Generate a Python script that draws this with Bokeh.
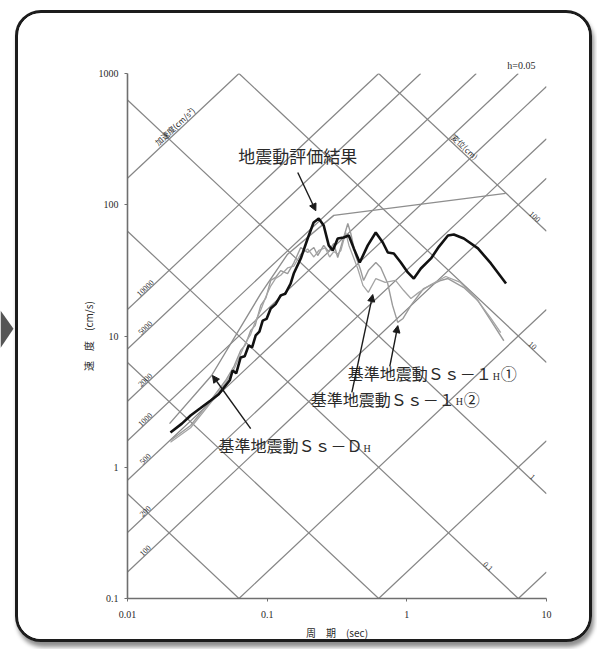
import math
from bokeh.plotting import figure
from bokeh.layouts import row
from bokeh.models import Range1d, FixedTicker, Arrow, NormalHead
from bokeh.core.properties import value
from bokeh.embed import file_html
from bokeh.resources import INLINE

# ---------------- data ----------------
# tripartite grid values
accel_lines = [0.1, 1, 10, 100, 200, 500, 1000, 2000, 5000, 10000, 100000]   # cm/s^2
accel_labels = ["100", "200", "500", "1000", "2000", "5000", "10000"]
disp_lines = [0.001, 0.01, 0.1, 1, 10, 100]                                  # cm
disp_labels = ["100", "10", "1", "0.1"]
disp_label_T = [8.0, 7.7, 7.7, 3.7]

# 地震動評価結果 (bold black)
eval_T = [0.0203, 0.0245, 0.0283, 0.033, 0.0394, 0.045, 0.0504, 0.054, 0.0566, 0.060,
          0.0646, 0.069, 0.0737, 0.078, 0.0828, 0.088, 0.0929, 0.099, 0.106, 0.115,
          0.125, 0.135, 0.147, 0.155, 0.174, 0.195, 0.215, 0.234, 0.254, 0.276,
          0.295, 0.320, 0.353, 0.384, 0.417, 0.460, 0.525, 0.599, 0.673, 0.731,
          0.807, 0.906, 1.016, 1.122, 1.26, 1.49, 1.70, 1.97, 2.17, 2.56,
          3.23, 4.0, 5.13]
eval_V = [1.84, 2.15, 2.48, 2.8, 3.23, 3.6, 4.2, 4.6, 5.46, 5.2,
          6.86, 7.0, 8.47, 8.2, 10.1, 10.8, 13.1, 13.5, 16.2, 17.5,
          20.4, 21.0, 25.0, 29.9, 38.9, 55.3, 73.3, 78.5, 69.5, 49.0,
          44.8, 55.3, 56.3, 58.3, 46.5, 36.3, 49.0, 61.5, 51.6, 43.3,
          42.5, 36.3, 30.5, 27.4, 32.7, 39.0, 48.0, 58.3, 59.4, 55.3,
          46.5, 35.7, 25.1]

# 基準地震動 Ss-DH (design spectrum)
dh_T = [0.02, 0.04, 0.09, 0.14, 0.30, 5.1]
dh_V = [2.15, 5.0, 21.0, 42.0, 83.0, 122.0]

# 基準地震動 Ss-1H①
s1_T = [0.0203, 0.0283, 0.0394, 0.0504, 0.058, 0.0646, 0.070, 0.0762, 0.082, 0.090,
        0.098, 0.106, 0.115, 0.125, 0.140, 0.155, 0.174, 0.195, 0.216, 0.230,
        0.254, 0.275, 0.300, 0.320, 0.353, 0.378, 0.397, 0.430, 0.468, 0.49,
        0.53, 0.60, 0.65, 0.73, 0.79, 0.86, 0.94, 1.07, 1.32, 1.75,
        1.97, 2.56, 3.23, 4.0, 4.95]
s1_V = [1.6, 2.08, 3.23, 4.58, 5.9, 7.76, 8.6, 11.0, 12.0, 17.1,
        19.5, 26.5, 28.0, 31.5, 29.9, 36.0, 47.2, 43.3, 47.2, 41.0,
        49.0, 44.0, 50.7, 39.6, 56.3, 71.9, 60.4, 41.0, 31.5, 26.5,
        31.5, 36.3, 33.3, 25.1, 17.1, 12.7, 13.6, 17.1, 23.0, 26.5,
        27.4, 23.4, 18.6, 13.1, 9.2]

# 基準地震動 Ss-1H②
s2_T = [0.0203, 0.0283, 0.0394, 0.0504, 0.058, 0.0646, 0.070, 0.0762, 0.082, 0.090,
        0.098, 0.106, 0.115, 0.125, 0.140, 0.155, 0.174, 0.195, 0.216, 0.235,
        0.26, 0.28, 0.300, 0.320, 0.337, 0.365, 0.385, 0.445, 0.485, 0.53,
        0.60, 0.70, 0.83, 0.95, 1.07, 1.22, 1.49, 1.90, 2.42, 3.1,
        4.0, 4.7]
s2_V = [1.55, 2.0, 3.1, 4.4, 5.6, 7.3, 8.9, 10.3, 12.8, 15.8,
        20.0, 24.0, 27.5, 29.0, 33.0, 34.0, 42.0, 46.0, 40.0, 45.0,
        47.0, 40.0, 44.0, 42.0, 44.8, 61.5, 49.0, 32.7, 24.3, 21.5,
        27.4, 25.6, 26.5, 22.2, 19.3, 21.5, 24.7, 28.4, 25.6, 19.6,
        13.6, 10.6]

# ---------------- figure ----------------
SERIF = "Liberation Serif"
JP = "Noto Sans CJK JP"
TXT = "#2a2a2a"
GRID = "#858585"

p = figure(width=577, height=632, x_axis_type="log", y_axis_type="log",
           x_range=Range1d(0.01, 10), y_range=Range1d(0.1, 1000),
           output_backend="svg", toolbar_location=None,
           min_border_left=109, min_border_right=49, min_border_top=60, min_border_bottom=47,
           title="h=0.05")
p.margin = (10, 0, 0, 0)
p.styles = {"border": "3px solid #1c1c1c", "border-radius": "26px", "overflow": "hidden",
            "box-shadow": "2px 5px 4px #8f8f8f"}
p.background_fill_color = "white"
p.border_fill_color = "white"
p.outline_line_color = None
p.grid.visible = False

p.title.align = "right"
p.title.offset = 11
p.title.text_font = SERIF
p.title.text_font_size = "10px"
p.title.text_font_style = "normal"
p.title.text_color = TXT
p.title.standoff = 5

for ax in (p.xaxis[0], p.yaxis[0]):
    ax.axis_line_color = "#6f6f6f"
    ax.axis_line_width = 1.6
    ax.major_tick_line_color = "#6f6f6f"
    ax.major_tick_out = 3
    ax.major_tick_in = 0
    ax.minor_tick_out = 0
    ax.minor_tick_in = 0
    ax.major_label_text_font = SERIF
    ax.major_label_text_font_size = "10px"
    ax.major_label_text_color = TXT
    ax.axis_label_text_font = JP
    ax.axis_label_text_font_size = "10px"
    ax.axis_label_text_font_style = "normal"
    ax.axis_label_text_color = TXT

p.xaxis.ticker = FixedTicker(ticks=[0.01, 0.1, 1, 10])
p.yaxis.ticker = FixedTicker(ticks=[0.1, 1, 10, 100, 1000])
p.xaxis.major_label_overrides = {0.01: "0.01", 0.1: "0.1", 1: "1", 10: "10"}
p.yaxis.major_label_overrides = {0.1: "0.1", 1: "1", 10: "10", 100: "100", 1000: "1000"}
p.xaxis.axis_label = "周　期　(sec)"
p.yaxis.axis_label = "速　度　(cm/s)"
p.xaxis.major_label_standoff = 9
p.xaxis.axis_label_standoff = 4
p.yaxis.major_label_standoff = 6
p.yaxis.axis_label_standoff = 0

TWO_PI = 2 * math.pi
T0, T1, V0, V1 = 0.01, 10.0, 0.1, 1000.0

# acceleration lines: V = A T / 2pi
xs, ys = [], []
for A in accel_lines:
    ta = max(T0, TWO_PI * V0 / A)
    tb = min(T1, TWO_PI * V1 / A)
    if ta < tb:
        xs.append([ta, tb]); ys.append([A * ta / TWO_PI, A * tb / TWO_PI])
# displacement lines: V = 2pi D / T
for D in disp_lines:
    ta = max(T0, TWO_PI * D / V1)
    tb = min(T1, TWO_PI * D / V0)
    if ta < tb:
        xs.append([ta, tb]); ys.append([TWO_PI * D / ta, TWO_PI * D / tb])
p.multi_line(xs, ys, line_color=GRID, line_width=1.2)

# angle of the +1 slope lines on screen
ANG = math.atan2(131.25, 139.5)

# acceleration labels
lab_T = 0.0138
p.text(x=[lab_T] * len(accel_labels),
       y=[float(a) * lab_T / TWO_PI for a in accel_labels],
       text=accel_labels, angle=ANG, text_align="center", text_baseline="bottom",
       text_font=value(SERIF), text_font_size="8px", text_color=TXT, y_offset=-1)
p.text(x=[0.0232], y=[100000 * 0.0232 / TWO_PI], text=["加速度(cm/s²)"], angle=ANG,
       text_align="center", text_baseline="bottom", text_font=value(JP),
       text_font_size="8px", text_color=TXT)
# displacement labels
p.text(x=disp_label_T, y=[TWO_PI * float(d) / t for d, t in zip(disp_labels, disp_label_T)],
       text=disp_labels, angle=-ANG, text_align="center", text_baseline="bottom",
       text_font=value(SERIF), text_font_size="8px", text_color=TXT)
p.text(x=[2.44], y=[TWO_PI * 100 / 2.44], text=["変位(cm)"], angle=-ANG,
       text_align="center", text_baseline="bottom", text_font=value(JP),
       text_font_size="8px", text_color=TXT)

# spectra
p.line(dh_T, dh_V, line_color="#8e8e8e", line_width=1.4)
p.line(s1_T, s1_V, line_color="#9a9a9a", line_width=1.4)
p.line(s2_T, s2_V, line_color="#a4a4a4", line_width=1.3)
p.line(eval_T, eval_V, line_color="#111111", line_width=2.6)

# annotations
FS = 16
def add_label(t, v, main, sub, tail=""):
    p.text(x=[t], y=[v], text=[main], text_align="left", text_baseline="middle",
           text_font=value(JP), text_font_size=f"{FS}px", text_color=TXT)
    w = FS * len(main)
    p.text(x=[t], y=[v], text=[sub], x_offset=w + 1, y_offset=3, text_align="left",
           text_baseline="middle", text_font=value(SERIF), text_font_size="10px", text_color=TXT)
    if tail:
        p.text(x=[t], y=[v], text=[tail], x_offset=w + 9, text_align="left",
               text_baseline="middle", text_font=value(JP), text_font_size=f"{FS}px",
               text_color=TXT)

p.text(x=[0.1656], y=[237], text=["地震動評価結果"], text_align="center", text_baseline="middle",
       text_font=value(JP), text_font_size="17px", text_color=TXT)
add_label(0.378, 5.18, "基準地震動Ｓｓ－１", "H", "①")
add_label(0.205, 3.34, "基準地震動Ｓｓ－１", "H", "②")
add_label(0.0449, 1.47, "基準地震動Ｓｓ－Ｄ", "H")

def arrow(t1, v1, t2, v2):
    p.add_layout(Arrow(end=NormalHead(size=7, fill_color="#1a1a1a", line_color="#1a1a1a"),
                       x_start=t1, y_start=v1, x_end=t2, y_end=v2,
                       line_color="#1a1a1a", line_width=1.4))

arrow(0.1656, 176, 0.223, 90)
arrow(0.755, 5.86, 0.862, 12.0)
arrow(0.404, 3.72, 0.570, 20.7)
arrow(0.0762, 1.97, 0.0406, 5.0)

# small page-side marker to the left of the frame (decoration)
side = figure(width=15, height=642, x_range=Range1d(0, 15), y_range=Range1d(642, 0),
              output_backend="svg", toolbar_location=None, min_border=0)
side.axis.visible = False
side.grid.visible = False
side.outline_line_color = None
side.patch([0, 13, 0], [300, 322, 345], fill_color="#555555", line_color=None)

layout = row(side, p)
open("out.html", "w").write(file_html(layout, INLINE))
